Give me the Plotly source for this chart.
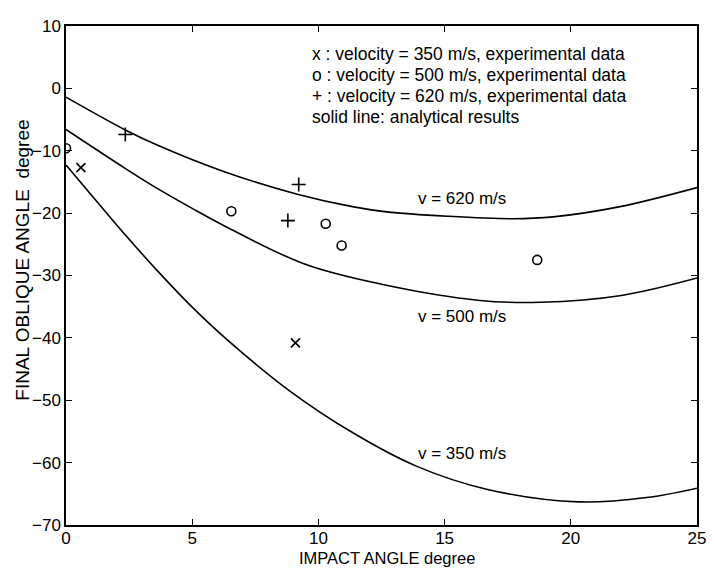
import plotly.graph_objects as go

# ---- data ----
x_350 = [0.59, 9.09]
y_350 = [-12.7, -40.8]

x_500 = [0.0, 6.55, 10.29, 10.92, 18.67]
y_500 = [-9.6, -19.7, -21.7, -25.2, -27.5]

x_620 = [2.35, 8.79, 9.22]
y_620 = [-7.4, -21.2, -15.4]

cx_620 = [0.0, 2.37, 3.68, 6.3, 9.2, 11.4, 12.7, 15.1, 17.7, 19.3, 21.9, 25.0]
cy_620 = [-1.4, -6.7, -9.2, -13.4, -17.0, -19.0, -19.8, -20.5, -20.9, -20.6, -19.0, -15.9]

cx_500 = [0.0, 2.37, 3.68, 4.98, 6.3, 9.48, 12.5, 16.4, 18.8, 22.0, 25.0]
cy_500 = [-6.6, -12.9, -16.2, -19.2, -22.1, -28.2, -31.4, -34.0, -34.3, -33.2, -30.4]

cx_350 = [0.0, 1.07, 2.37, 3.68, 4.98, 6.3, 8.83, 11.4, 13.9, 16.7, 20.3, 23.0, 25.0]
cy_350 = [-12.3, -17.4, -23.6, -29.5, -35.0, -40.0, -48.4, -55.3, -60.6, -64.3, -66.3, -65.6, -64.1]

curve_labels = ["v = 620 m/s", "v = 500 m/s", "v = 350 m/s"]
curve_label_x = [15.7, 15.7, 15.7]
curve_label_y = [-17.6, -36.6, -58.6]

legend_lines = [
    "x : velocity = 350 m/s, experimental data",
    "o : velocity = 500 m/s, experimental data",
    "+ : velocity = 620 m/s, experimental data",
    "solid line: analytical results",
]
legend_x = 9.66
legend_y = [5.5, 2.15, -1.2, -4.55]

x_ticks = [0, 5, 10, 15, 20, 25]
y_ticks = [10, 0, -10, -20, -30, -40, -50, -60, -70]

FONT = "Liberation Sans, Arial, Helvetica, sans-serif"

fig = go.Figure()
for cx, cy in [(cx_620, cy_620), (cx_500, cy_500), (cx_350, cy_350)]:
    fig.add_trace(go.Scatter(x=cx, y=cy, mode="lines",
                             line=dict(color="black", width=1.6, shape="spline", smoothing=1.0),
                             showlegend=False, hoverinfo="skip"))

fig.add_trace(go.Scatter(x=x_350, y=y_350, mode="markers", showlegend=False,
                         marker=dict(symbol="x-thin-open", size=9, color="black",
                                     line=dict(color="black", width=1.6))))
fig.add_trace(go.Scatter(x=x_500, y=y_500, mode="markers", showlegend=False,
                         marker=dict(symbol="circle-open", size=9, color="black",
                                     line=dict(color="black", width=1.6))))
fig.add_trace(go.Scatter(x=x_620, y=y_620, mode="markers", showlegend=False,
                         marker=dict(symbol="cross-thin-open", size=10, color="black",
                                     line=dict(color="black", width=1.6))))

for t, xx, yy in zip(curve_labels, curve_label_x, curve_label_y):
    fig.add_annotation(x=xx, y=yy, text=t, showarrow=False, xanchor="center", yanchor="middle",
                       font=dict(family=FONT, size=17, color="black"))

for t, yy in zip(legend_lines, legend_y):
    fig.add_annotation(x=legend_x, y=yy, text=t, showarrow=False, xanchor="left", yanchor="middle",
                       font=dict(family=FONT, size=17.5, color="black"))

# axis titles
fig.add_annotation(xref="paper", yref="paper", x=0.509, y=-0.0866, text="IMPACT ANGLE degree",
                   showarrow=False, xanchor="center", yanchor="bottom", borderpad=0,
                   font=dict(family=FONT, size=16.5, color="black"))
fig.add_annotation(xref="paper", yref="paper", x=-0.0703, y=0.531, text="FINAL OBLIQUE ANGLE  degree",
                   textangle=-90, showarrow=False, xanchor="center", yanchor="middle",
                   font=dict(family=FONT, size=19, color="black"))

axis_common = dict(showgrid=False, zeroline=False, showline=True, linecolor="black", linewidth=1.5,
                   mirror="ticks", ticks="inside", ticklen=6, tickwidth=1.3, tickcolor="black",
                   tickfont=dict(family=FONT, size=17, color="black"))

fig.update_xaxes(range=[0, 25], tickvals=x_ticks, ticktext=[str(v) for v in x_ticks],
                 ticklabelstandoff=-3, **axis_common)
fig.update_yaxes(range=[-70, 10], tickvals=y_ticks, **axis_common)

# the page body adds an 8px offset, so the figure is sized to fill the rest of the window
fig.update_layout(width=707, height=561, margin=dict(l=58, r=9, t=9, b=44),
                  plot_bgcolor="white", paper_bgcolor="white", showlegend=False,
                  font=dict(family=FONT, color="black"))

fig.write_html("out.html")
